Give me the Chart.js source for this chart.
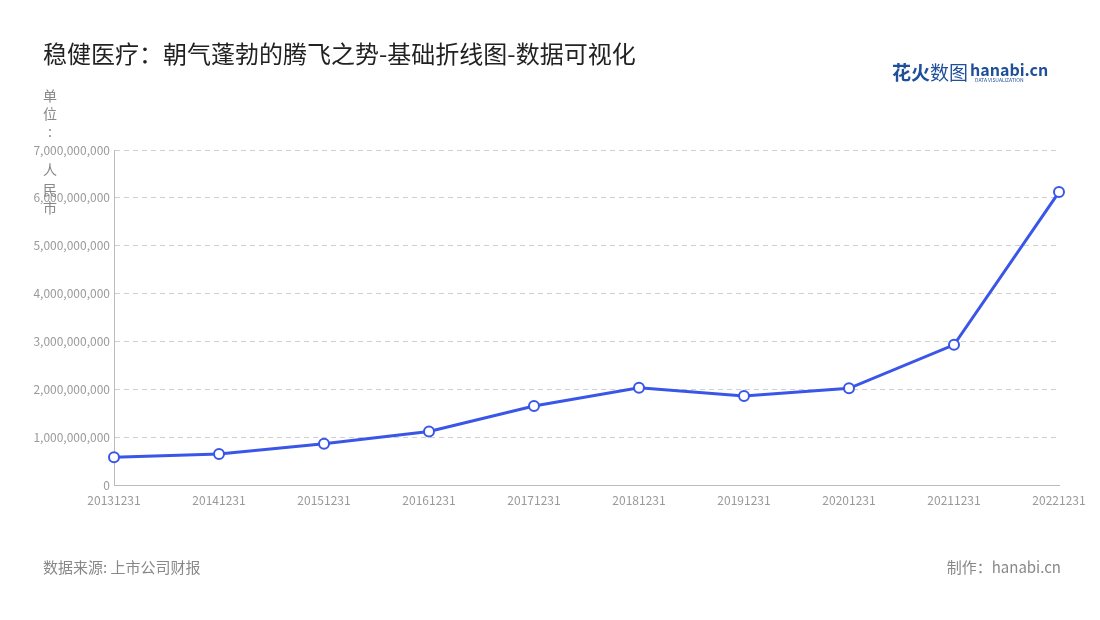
<!DOCTYPE html>
<html><head><meta charset="utf-8">
<script src="https://cdn.jsdelivr.net/npm/chart.js@4"></script>
<style>body{margin:0;background:#fff}#w{width:1100px;height:620px}</style>
</head><body><div id="w"><canvas id="c"></canvas></div>
<script>
const categories=['20131231','20141231','20151231','20161231','20171231','20181231','20191231','20201231','20211231','20221231'];
const revenue=[580000000,650000000,860000000,1120000000,1650000000,2030000000,1860000000,2020000000,2930000000,6120000000];
const yTicks=[0,1000000000,2000000000,3000000000,4000000000,5000000000,6000000000,7000000000];
const F='"Noto Sans CJK SC","Noto Sans",sans-serif';
const deco={id:'deco',afterDraw(ch){const c=ch.ctx;c.save();
c.fillStyle='#222';c.font='24px '+F;c.textBaseline='middle';c.fillText('稳健医疗：朝气蓬勃的腾飞之势-基础折线图-数据可视化',43,54);
c.fillStyle='#888';c.font='14px '+F;
['单','位',':','人','民','市'].forEach((t,i)=>{c.textAlign='center';c.fillText(t,50,[96,114,132,170,190,208][i]);});
c.textAlign='left';c.font='15px '+F;c.fillStyle='#888';c.fillText('数据来源: 上市公司财报',43,567);
c.textAlign='right';c.fillText('制作：hanabi.cn',1061,567);
c.textAlign='left';c.font='bold 19px '+F;c.fillStyle='#1f4e9a';c.fillText('花火',892,73);
c.font='19px '+F;c.fillText('数图',930,73);
c.font='bold 16px '+F;c.fillText('hanabi.cn',970,70);
c.font='5px '+F;c.fillText('DATA VISUALIZATION',975,80);
c.restore();}};
new Chart(document.getElementById('c'),{type:'line',
data:{labels:categories,datasets:[{data:revenue,borderColor:'#3a56e8',borderWidth:3,pointRadius:5,pointHoverRadius:5,pointBackgroundColor:'#fff',pointBorderColor:'#3a56e8',pointBorderWidth:2,tension:0}]},
options:{responsive:true,maintainAspectRatio:false,animation:false,
layout:{padding:{top:150,right:41,left:0,bottom:0}},
plugins:{legend:{display:false},tooltip:{enabled:false}},
scales:{
x:{offset:false,afterFit(a){a.height=135;},grid:{display:false},border:{color:'#bbb'},ticks:{padding:0,color:'#999',font:{size:12,family:F},maxRotation:0,autoSkip:false}},
y:{min:0,max:7000000000,afterFit(a){a.width=114;},afterBuildTicks(a){a.ticks=yTicks.map(v=>({value:v}));},
grid:{color:'#d0d0d0',drawTicks:false},border:{display:true,color:'#bbb',dash:[5,4]},
ticks:{padding:4,color:'#999',font:{size:12,family:F},callback:v=>v.toLocaleString('en-US')}}}},
plugins:[deco]});
</script></body></html>
